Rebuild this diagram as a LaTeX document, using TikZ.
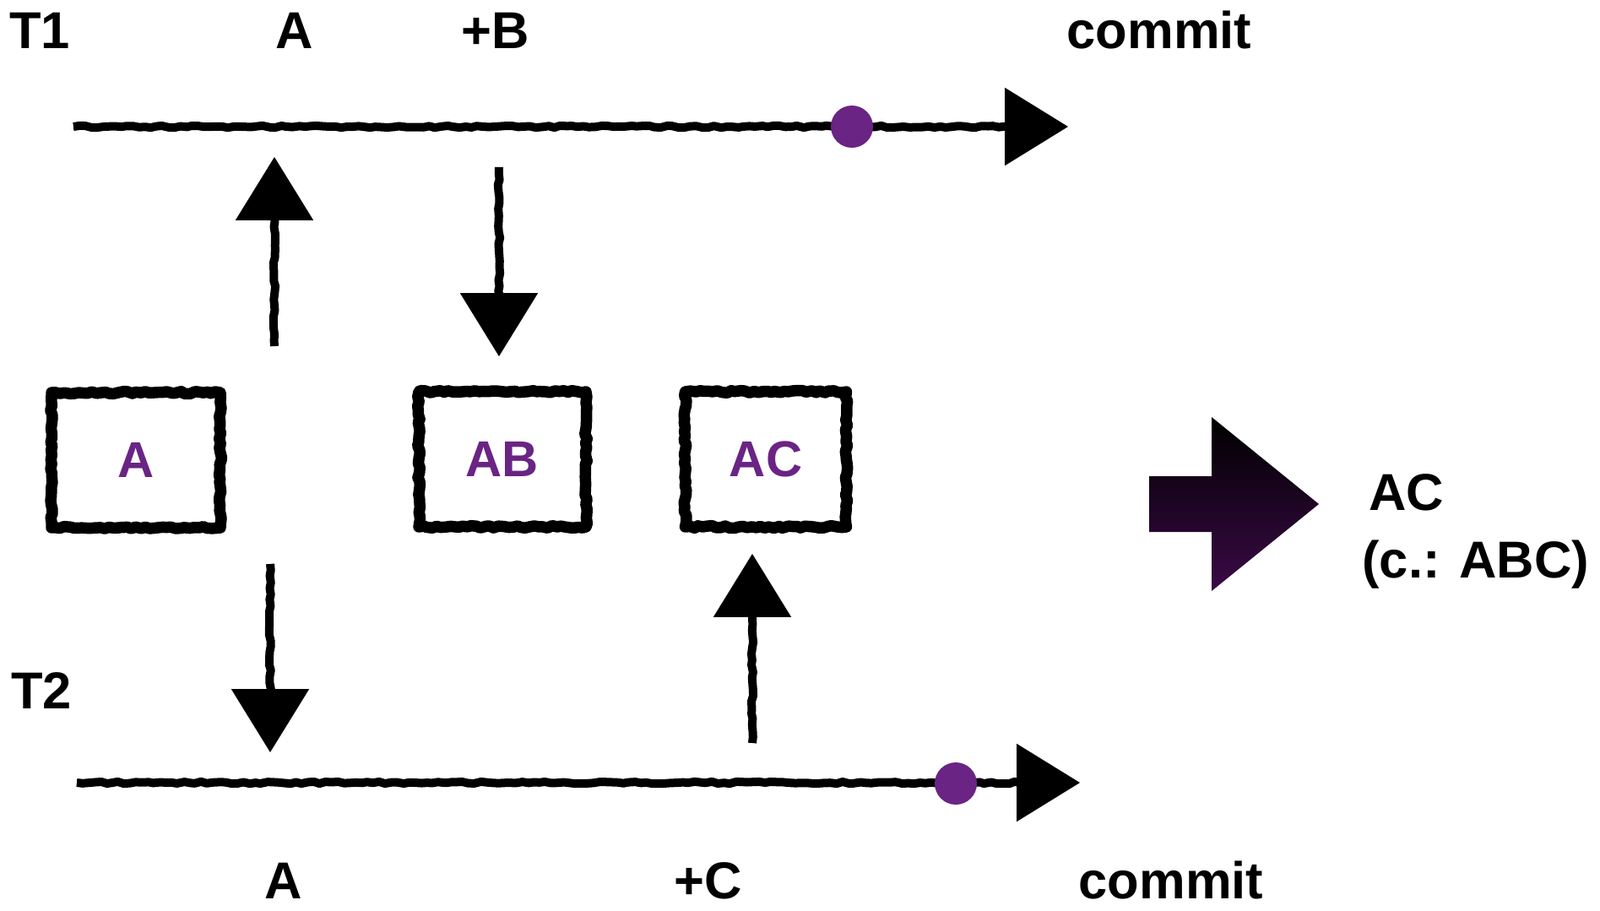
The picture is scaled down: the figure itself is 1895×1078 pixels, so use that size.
\documentclass[tikz,border=0pt]{standalone}
\usepackage{fontspec}
\setmainfont{Liberation Sans}
\usetikzlibrary{arrows.meta,decorations.pathmorphing}
\definecolor{markpurple}{RGB}{106,36,132}
\definecolor{darkpurple}{RGB}{58,10,70}
\begin{document}
\begin{tikzpicture}[x=0.02cm,y=-0.02cm,
  txt/.style={font=\fontsize{35}{42}\selectfont\bfseries,anchor=base,inner sep=0pt},
  chalk/.style={line width=0.17cm,
    -{Triangle[length=1.5cm,width=1.85cm,line width=0pt]},
    postaction={draw,-,line width=0.2cm,line join=round,decorate,
      decoration={random steps,segment length=4pt,amplitude=0.7pt,
        post=moveto,post length=1.3cm}}},
  statebox/.style={draw,line width=0.27cm,line join=round,minimum height=3.2cm,
    font=\fontsize{34}{40}\selectfont\bfseries,text=markpurple,
    decorate,decoration={random steps,segment length=3pt,amplitude=0.8pt}},
  commitdot/.style={circle,fill=markpurple,minimum size=1cm,inner sep=0pt}]

% fix the page size
\useasboundingbox (0,0) rectangle (1895,1078);

% labels of transaction T1
\node[txt] (t1) at (47,58) {T1};
\node[txt] (t1read) at (349,58) {A};
\node[txt] (t1write) at (587,58) {+B};
\node[txt] (t1commit) at (1373,58) {commit};

% labels of transaction T2
\node[txt] (t2) at (49,839) {T2};
\node[txt] (t2read) at (336,1064) {A};
\node[txt] (t2write) at (839,1064) {+C};
\node[txt] (t2commit) at (1387,1064) {commit};

% time lines
\coordinate (t1start) at (87,150);
\coordinate (t1end) at (1265,150);
\coordinate (t2start) at (91,927);
\coordinate (t2end) at (1279,927);
\draw[chalk] (t1start) -- (t1end);
\draw[chalk] (t2start) -- (t2end);

% commit points
\node[commitdot] (c1) at (1009,150) {};
\node[commitdot] (c2) at (1132,928) {};

% database states
\node[statebox,minimum width=4cm] (sA) at (161,545) {A};
\node[statebox,minimum width=3.96cm] (sAB) at (595,544) {AB};
\node[statebox,minimum width=3.82cm] (sAC) at (907,544) {AC};

% reads and writes
\coordinate (readAtail) at (325,410);
\coordinate (readAtip) at (325,186);
\coordinate (writeBtail) at (591,198);
\coordinate (writeBtip) at (591,422);
\coordinate (readA2tail) at (320,668);
\coordinate (readA2tip) at (320,891);
\coordinate (writeCtail) at (891,880);
\coordinate (writeCtip) at (891,656);
\draw[chalk] (readAtail) -- (readAtip);
\draw[chalk] (writeBtail) -- (writeBtip);
\draw[chalk] (readA2tail) -- (readA2tip);
\draw[chalk] (writeCtail) -- (writeCtip);

% result arrow
\shade[top color=black,bottom color=darkpurple] (1361,564) -- (1435,564) -- (1435,494)
  -- (1562,597) -- (1435,700) -- (1435,630) -- (1361,630) -- cycle;

% result
\node[txt,anchor=base west] (result) at (1621,604) {AC};
\node[txt,anchor=base west] (resultnote) at (1613,684) {(c.: ABC)};

\end{tikzpicture}
\end{document}
